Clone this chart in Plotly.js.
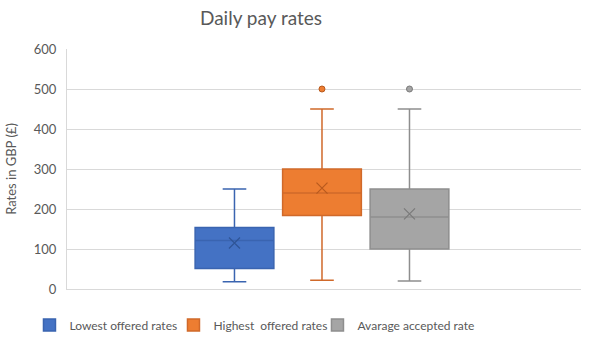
<!DOCTYPE html>
<html>
<head>
<meta charset="utf-8">
<script src="https://cdn.plot.ly/plotly-3.0.1.min.js"></script>
<style>html,body{margin:0;padding:0;background:#fff;}#chart{width:590px;height:351px;}</style>
</head>
<body>
<div id="chart"></div>
<script>
const seriesNames = ['Lowest offered rates', 'Highest\u00A0 offered rates', 'Avarage accepted rate'];
const q1Values = [51, 184, 100];
const medianValues = [121, 240, 180];
const q3Values = [154, 300, 250];
const lowerFenceValues = [18, 22, 20];
const upperFenceValues = [250, 450, 450];
const meanValues = [115, 252, 188];
const outlierValues = [[], [500], [500]];
const yTicks = [0, 100, 200, 300, 400, 500, 600];

const fillColors = ['#4472C4', '#ED7D31', '#A5A5A5'];
const lineColors = ['#3A64B0', '#D0692A', '#8E8E8E'];
const darkColors = ['#2F5597', '#B85A1E', '#7A7A7A'];

const traces = [];
seriesNames.forEach((name, i) => {
  traces.push({
    type: 'box',
    name: name,
    x: [name],
    q1: [q1Values[i]],
    median: [medianValues[i]],
    q3: [q3Values[i]],
    lowerfence: [lowerFenceValues[i]],
    upperfence: [upperFenceValues[i]],
    boxpoints: false,
    width: 0.9,
    whiskerwidth: 0.3,
    fillcolor: fillColors[i],
    line: {color: lineColors[i], width: 1.5},
    hoverinfo: 'skip'
  });
});
seriesNames.forEach((name, i) => {
  traces.push({
    type: 'scatter', mode: 'markers', showlegend: false,
    x: [name], y: [meanValues[i]],
    marker: {symbol: 'x-thin-open', size: 11, line: {color: darkColors[i], width: 1.2}, color: darkColors[i]},
    hoverinfo: 'skip'
  });
  if (outlierValues[i].length) {
    traces.push({
      type: 'scatter', mode: 'markers', showlegend: false,
      x: outlierValues[i].map(() => name), y: outlierValues[i],
      marker: {symbol: 'circle', size: 6, color: fillColors[i], line: {color: darkColors[i], width: 1}},
      hoverinfo: 'skip'
    });
  }
});
// invisible spacer entry so the last legend label is not clipped
traces.push({type: 'scatter', mode: 'markers', x: [seriesNames[0]], y: [null], name: '\u00A0', showlegend: true,
  marker: {color: 'rgba(0,0,0,0)', size: 1, line: {width: 0}}, hoverinfo: 'skip'});

const layout = {
  width: 590, height: 351,
  paper_bgcolor: '#fff', plot_bgcolor: '#fff',
  margin: {l: 67, r: 9, t: 49, b: 62, autoexpand: false},
  font: {family: 'Lato, "Open Sans", sans-serif', color: '#595959', size: 12},
  title: {text: 'Daily pay rates', font: {size: 19, color: '#595959'}, x: 261/590, xref: 'container', xanchor: 'center', y: 1 - 18/351, yref: 'container', yanchor: 'middle'},
  boxmode: 'overlay',
  showlegend: true,
  legend: {orientation: 'h', x: -0.073, xref: 'paper', xanchor: 'left', y: -0.15, yanchor: 'middle', font: {size: 12, color: '#595959'}, itemclick: false, traceorder: 'normal', itemwidth: 30, entrywidthmode: 'pixels', entrywidth: 99},
  xaxis: {type: 'category', categoryorder: 'array', categoryarray: seriesNames, range: [-1.914, 3.96], showticklabels: false, showgrid: false, zeroline: false, showline: true, linecolor: '#D9D9D9', linewidth: 1, ticks: '', automargin: false},
  yaxis: {range: [0, 600], tickvals: yTicks, ticktext: yTicks.map(String), showgrid: true, gridcolor: '#D9D9D9', gridwidth: 1, zeroline: false, showline: true, linecolor: '#D9D9D9', linewidth: 1, ticks: '', ticklen: 0, ticklabelstandoff: 7, automargin: false, tickfont: {size: 13, color: '#595959'},
    title: {text: 'Rates in GBP (£)', font: {size: 13, color: '#595959'}, standoff: 14}}
};

Plotly.newPlot('chart', traces, layout, {staticPlot: true, displayModeBar: false});
</script>
</body>
</html>
